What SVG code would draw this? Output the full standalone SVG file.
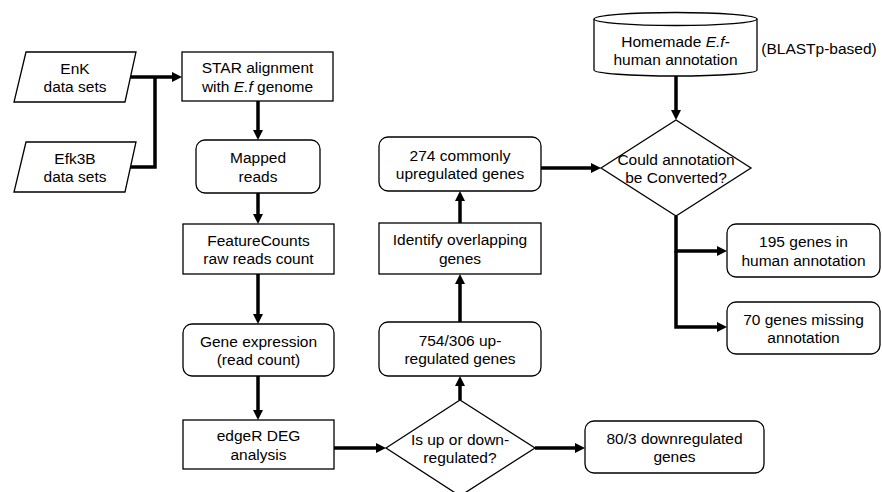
<svg xmlns="http://www.w3.org/2000/svg" width="882" height="492" viewBox="0 0 882 492">
<defs>
<style>
.n{fill:#fff;stroke:#000;stroke-width:1.3}
.t{font-family:"Liberation Sans",Arial,sans-serif;font-size:15.5px;fill:#000;text-anchor:middle}
.c{fill:none;stroke:#000;stroke-width:3.5;stroke-linejoin:miter}
.a{marker-end:url(#ah)}
</style>
<marker id="ah" markerWidth="10" markerHeight="10" refX="5" refY="5" orient="auto" markerUnits="userSpaceOnUse">
<path d="M0,0 L10,5 L0,10 z" fill="#000"/>
</marker>
</defs>
<rect width="882" height="492" fill="#fff"/>

<g id="connectors">
<path class="c a" d="M129,77 H177"/>
<path class="c" d="M129,167 H155 V77"/>
<path class="c a" d="M258,101 V135"/>
<path class="c a" d="M258,193 V219"/>
<path class="c a" d="M258,274 V319"/>
<path class="c a" d="M258,376 V415"/>
<path class="c a" d="M334,448 H381"/>
<path class="c a" d="M460,400 V381"/>
<path class="c a" d="M460,322 V279"/>
<path class="c a" d="M460,223 V196"/>
<path class="c a" d="M541,168 H596"/>
<path class="c a" d="M676,76 V115"/>
<path class="c a" d="M535,448 H580"/>
<path class="c a" d="M676,216 V251 H722"/>
<path class="c a" d="M676,251 V327 H722"/>
</g>

<g id="enk">
<polygon class="n" points="26,52 136,52 125,102 14,102"/>
<text class="t" x="75" y="73.5">EnK</text>
<text class="t" x="75" y="92">data sets</text>
</g>
<g id="efk3b">
<polygon class="n" points="26,142 136,142 125,192 14,192"/>
<text class="t" x="75" y="163.5">Efk3B</text>
<text class="t" x="75" y="182">data sets</text>
</g>
<g id="star">
<rect class="n" x="182" y="52" width="151" height="49"/>
<text class="t" x="257.5" y="73">STAR alignment</text>
<text class="t" x="257.5" y="91.5">with <tspan font-style="italic">E.f</tspan> genome</text>
</g>
<g id="mapped">
<rect class="n" x="196" y="140" width="124" height="53" rx="9"/>
<text class="t" x="258" y="163">Mapped</text>
<text class="t" x="258" y="181.5">reads</text>
</g>
<g id="featurecounts">
<rect class="n" x="183" y="224" width="151" height="50"/>
<text class="t" x="258.5" y="245.5">FeatureCounts</text>
<text class="t" x="258.5" y="264">raw reads count</text>
</g>
<g id="geneexpr">
<rect class="n" x="183" y="324" width="151" height="52" rx="9"/>
<text class="t" x="258.5" y="346.5">Gene expression</text>
<text class="t" x="258.5" y="365">(read count)</text>
</g>
<g id="edger">
<rect class="n" x="183" y="420" width="151" height="49"/>
<text class="t" x="258.5" y="441">edgeR DEG</text>
<text class="t" x="258.5" y="459.5">analysis</text>
</g>
<g id="updown">
<polygon class="n" points="386,448 460,400 535,448 460,496"/>
<text class="t" x="460" y="445">Is up or down-</text>
<text class="t" x="460" y="463">regulated?</text>
</g>
<g id="upreg">
<rect class="n" x="379" y="322" width="162" height="54" rx="9"/>
<text class="t" x="460" y="345.5">754/306 up-</text>
<text class="t" x="460" y="364">regulated genes</text>
</g>
<g id="overlap">
<rect class="n" x="379" y="223" width="162" height="51"/>
<text class="t" x="460" y="245">Identify overlapping</text>
<text class="t" x="460" y="263.5">genes</text>
</g>
<g id="common">
<rect class="n" x="379" y="137" width="162" height="54" rx="9"/>
<text class="t" x="460" y="160.5">274 commonly</text>
<text class="t" x="460" y="179">upregulated genes</text>
</g>
<g id="downreg">
<rect class="n" x="585" y="421" width="179" height="52" rx="9"/>
<text class="t" x="674.5" y="443.5">80/3 downregulated</text>
<text class="t" x="674.5" y="462">genes</text>
</g>
<g id="annotdb">
<path class="n" d="M594,19 V70 A81.5,6 0 0 0 757,70 V19"/>
<ellipse class="n" cx="675.5" cy="19" rx="81.5" ry="6.5"/>
<text class="t" x="675.5" y="47">Homemade <tspan font-style="italic">E.f-</tspan></text>
<text class="t" x="675.5" y="65">human annotation</text>
</g>
<g id="blastp">
<text class="t" x="819" y="54">(BLASTp-based)</text>
</g>
<g id="convert">
<polygon class="n" points="601,168 676,120 751,168 676,216"/>
<text class="t" x="676" y="165">Could annotation</text>
<text class="t" x="676" y="183">be Converted?</text>
</g>
<g id="human">
<rect class="n" x="727" y="224" width="153" height="53" rx="9"/>
<text class="t" x="803.5" y="247">195 genes in</text>
<text class="t" x="803.5" y="265.5">human annotation</text>
</g>
<g id="missing">
<rect class="n" x="727" y="302" width="153" height="52" rx="9"/>
<text class="t" x="803.5" y="324.5">70 genes missing</text>
<text class="t" x="803.5" y="343">annotation</text>
</g>
</svg>
